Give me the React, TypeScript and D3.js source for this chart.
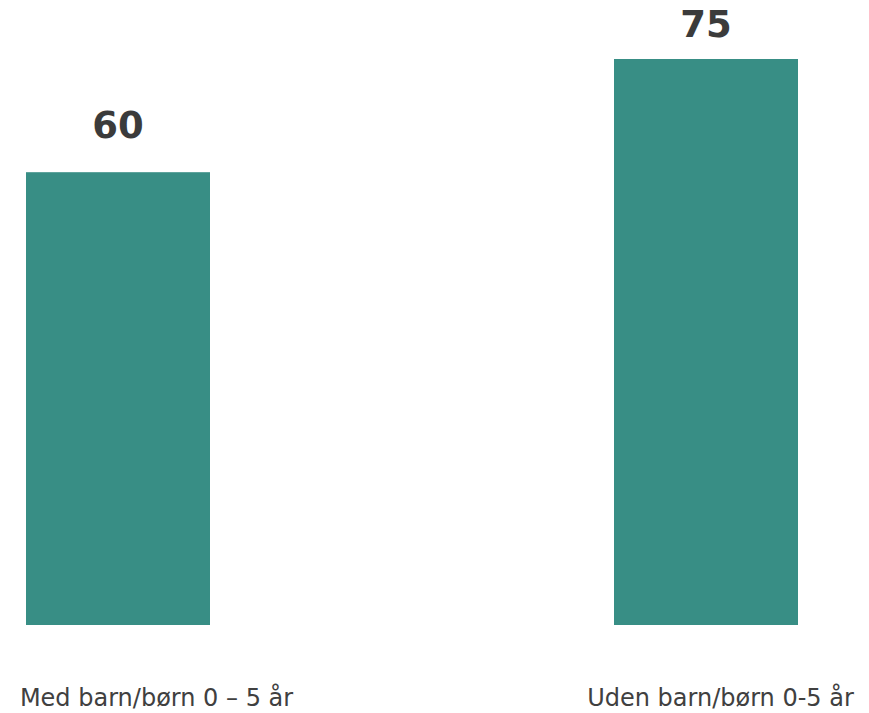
import React from "react";
import * as d3 from "d3";

const categories = ["Med barn/børn 0 – 5 år", "Uden barn/børn 0-5 år"];
const values = [60, 75];

const W = 869;
const H = 713;
const valueLabelGap = [34, 22];

export default function App() {
  const y = d3.scaleLinear().domain([0, 75]).range([625, 59]);
  const x = d3.scalePoint<string>().domain(categories).range([118, 706]);
  const xLabel = d3.scalePoint<string>().domain(categories).range([156.5, 720.5]);
  const barW = 184;
  const font = "'DejaVu Sans', 'Open Sans', sans-serif";
  return (
    <svg
      width={W}
      height={H}
      style={{ position: "absolute", left: 0, top: 0, background: "#fff" }}
    >
      {categories.map((c, i) => (
        <g key={c}>
          <rect
            x={(x(c) as number) - barW / 2}
            y={y(values[i])}
            width={barW}
            height={y(0) - y(values[i])}
            fill="#388e85"
          />
          <text
            x={x(c)}
            y={y(values[i]) - valueLabelGap[i]}
            textAnchor="middle"
            fontFamily={font}
            fontWeight={700}
            fontSize={37}
            fill="#3b3b3b"
          >
            {values[i]}
          </text>
          <text
            x={xLabel(c)}
            y={706}
            textAnchor="middle"
            fontFamily={font}
            fontSize={24}
            fill="#404040"
          >
            {c}
          </text>
        </g>
      ))}
    </svg>
  );
}
